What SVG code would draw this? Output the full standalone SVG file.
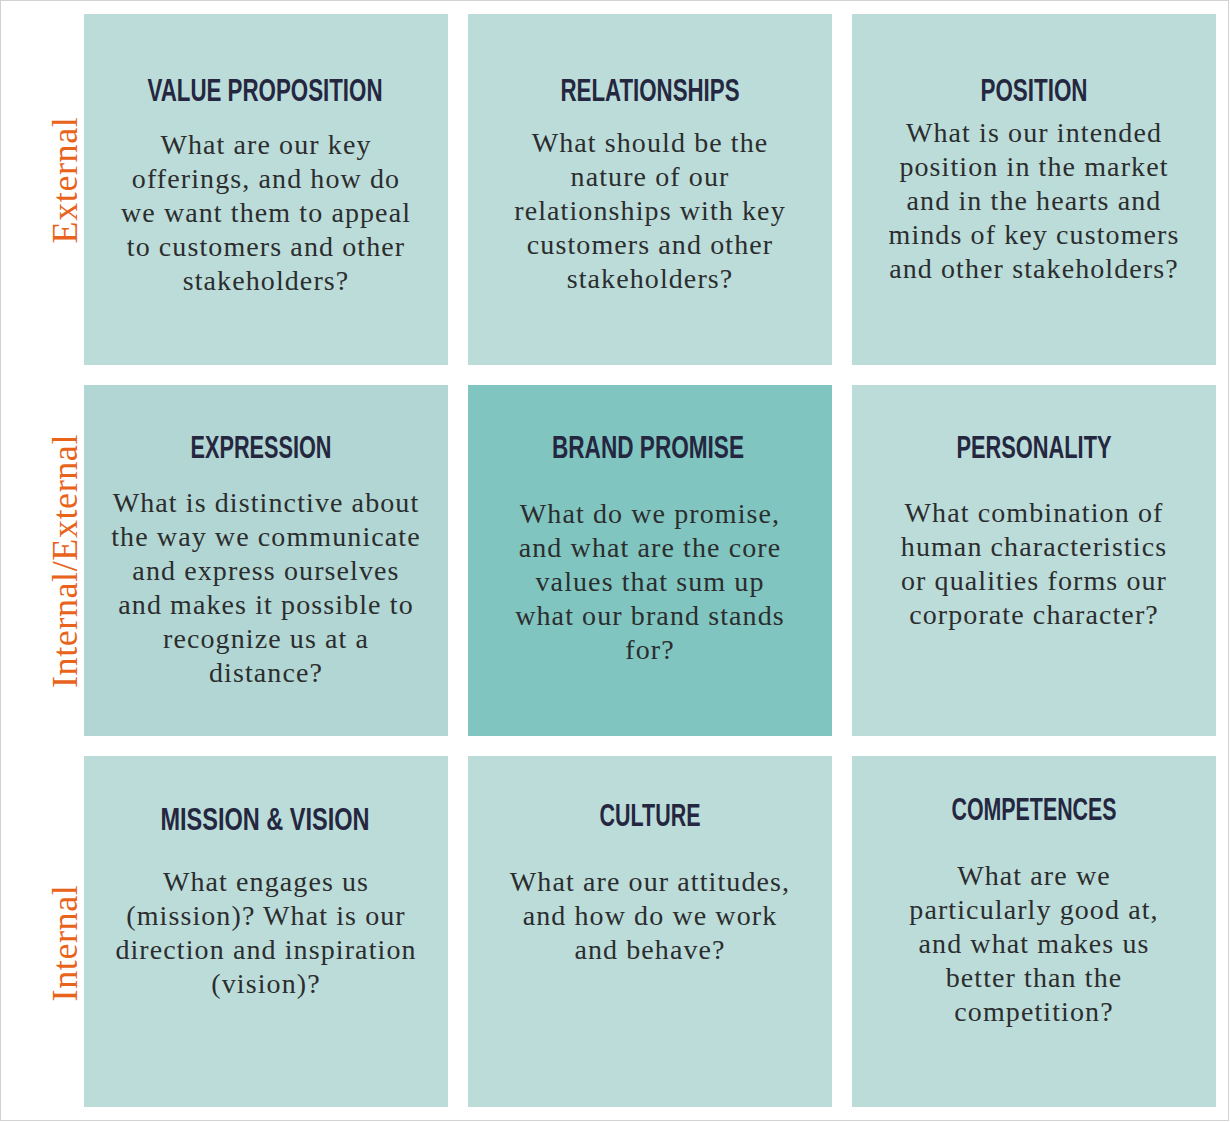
<svg xmlns="http://www.w3.org/2000/svg" width="1230" height="1122" viewBox="0 0 1230 1122">
  <style>
    .tile { fill: #bcdcd9; }
    .title { font-family: "Liberation Sans Narrow", "Liberation Sans", "DejaVu Sans Condensed", sans-serif; font-weight: bold; font-size: 31px; fill: #24273f; text-anchor: middle; }
    .body { font-family: "Liberation Serif", "DejaVu Serif", serif; font-size: 28px; letter-spacing: 1.1px; fill: #2b2d2e; text-anchor: middle; }
    .axis { font-family: "Liberation Serif", "DejaVu Serif", serif; font-size: 36px; letter-spacing: 0.6px; fill: #e8641c; text-anchor: middle; }
  </style>
  <rect x="0.5" y="0.5" width="1228" height="1120" fill="#ffffff" stroke="#d2d2d2" stroke-width="1"/>

  <!-- row labels -->
  <g id="axis-labels">
    <text class="axis" transform="translate(77,180) rotate(-90)">External</text>
    <text class="axis" transform="translate(77,561) rotate(-90)">Internal/External</text>
    <text class="axis" transform="translate(77,943) rotate(-90)">Internal</text>
  </g>

  <!-- connectors: none in this grid -->
  <g id="connectors"/>

  <g id="value-proposition">
    <rect class="tile" x="84" y="14" width="364" height="351"/>
    <text class="title" x="265" y="101" textLength="235" lengthAdjust="spacingAndGlyphs">VALUE PROPOSITION</text>
    <text class="body" x="266" y="154">What are our key</text>
    <text class="body" x="266" y="188">offerings, and how do</text>
    <text class="body" x="266" y="222">we want them to appeal</text>
    <text class="body" x="266" y="256">to customers and other</text>
    <text class="body" x="266" y="290">stakeholders?</text>
  </g>

  <g id="relationships">
    <rect class="tile" x="468" y="14" width="364" height="351"/>
    <text class="title" x="650" y="101" textLength="179" lengthAdjust="spacingAndGlyphs">RELATIONSHIPS</text>
    <text class="body" x="650" y="152">What should be the</text>
    <text class="body" x="650" y="186">nature of our</text>
    <text class="body" x="650" y="220">relationships with key</text>
    <text class="body" x="650" y="254">customers and other</text>
    <text class="body" x="650" y="288">stakeholders?</text>
  </g>

  <g id="position">
    <rect class="tile" x="852" y="14" width="364" height="351"/>
    <text class="title" x="1034" y="101" textLength="107" lengthAdjust="spacingAndGlyphs">POSITION</text>
    <text class="body" x="1034" y="142">What is our intended</text>
    <text class="body" x="1034" y="176">position in the market</text>
    <text class="body" x="1034" y="210">and in the hearts and</text>
    <text class="body" x="1034" y="244">minds of key customers</text>
    <text class="body" x="1034" y="278">and other stakeholders?</text>
  </g>

  <g id="expression">
    <rect x="84" y="385" width="364" height="351" fill="#b2d6d3"/>
    <text class="title" x="261" y="458" textLength="141" lengthAdjust="spacingAndGlyphs">EXPRESSION</text>
    <text class="body" x="266" y="512">What is distinctive about</text>
    <text class="body" x="266" y="546">the way we communicate</text>
    <text class="body" x="266" y="580">and express ourselves</text>
    <text class="body" x="266" y="614">and makes it possible to</text>
    <text class="body" x="266" y="648">recognize us at a</text>
    <text class="body" x="266" y="682">distance?</text>
  </g>

  <g id="brand-promise">
    <rect x="468" y="385" width="364" height="351" fill="#81c5c0"/>
    <text class="title" x="648" y="458" textLength="192" lengthAdjust="spacingAndGlyphs">BRAND PROMISE</text>
    <text class="body" x="650" y="523">What do we promise,</text>
    <text class="body" x="650" y="557">and what are the core</text>
    <text class="body" x="650" y="591">values that sum up</text>
    <text class="body" x="650" y="625">what our brand stands</text>
    <text class="body" x="650" y="659">for?</text>
  </g>

  <g id="personality">
    <rect class="tile" x="852" y="385" width="364" height="351"/>
    <text class="title" x="1034" y="458" textLength="155" lengthAdjust="spacingAndGlyphs">PERSONALITY</text>
    <text class="body" x="1034" y="522">What combination of</text>
    <text class="body" x="1034" y="556">human characteristics</text>
    <text class="body" x="1034" y="590">or qualities forms our</text>
    <text class="body" x="1034" y="624">corporate character?</text>
  </g>

  <g id="mission-vision">
    <rect class="tile" x="84" y="756" width="364" height="351"/>
    <text class="title" x="265" y="830" textLength="209" lengthAdjust="spacingAndGlyphs">MISSION &amp; VISION</text>
    <text class="body" x="266" y="891">What engages us</text>
    <text class="body" x="266" y="925">(mission)? What is our</text>
    <text class="body" x="266" y="959">direction and inspiration</text>
    <text class="body" x="266" y="993">(vision)?</text>
  </g>

  <g id="culture">
    <rect class="tile" x="468" y="756" width="364" height="351"/>
    <text class="title" x="650" y="826" textLength="101" lengthAdjust="spacingAndGlyphs">CULTURE</text>
    <text class="body" x="650" y="891">What are our attitudes,</text>
    <text class="body" x="650" y="925">and how do we work</text>
    <text class="body" x="650" y="959">and behave?</text>
  </g>

  <g id="competences">
    <rect class="tile" x="852" y="756" width="364" height="351"/>
    <text class="title" x="1034" y="820" textLength="165" lengthAdjust="spacingAndGlyphs">COMPETENCES</text>
    <text class="body" x="1034" y="885">What are we</text>
    <text class="body" x="1034" y="919">particularly good at,</text>
    <text class="body" x="1034" y="953">and what makes us</text>
    <text class="body" x="1034" y="987">better than the</text>
    <text class="body" x="1034" y="1021">competition?</text>
  </g>
</svg>
